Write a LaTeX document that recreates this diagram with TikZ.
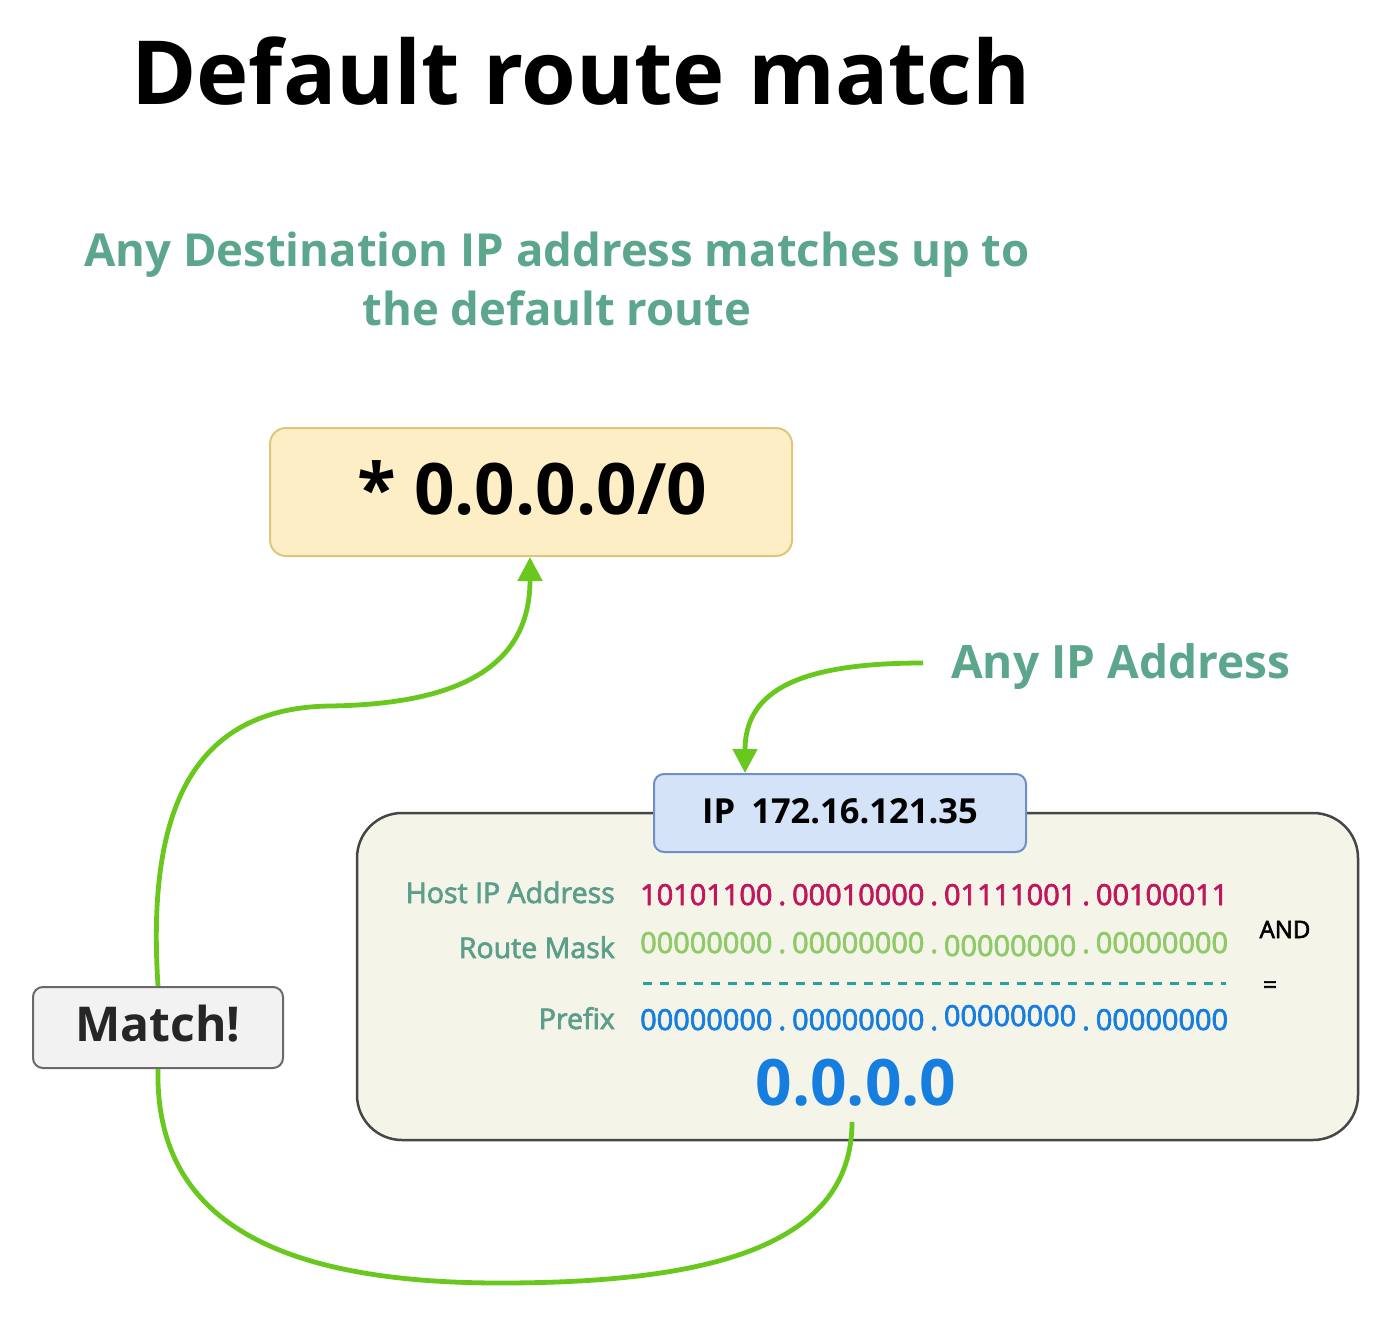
\documentclass[tikz,border=0pt]{standalone}
\usepackage{fontspec}
\setmainfont{Open Sans}
\newfontfamily\semib[FakeBold=2.5]{Open Sans}
\usetikzlibrary{arrows.meta}
\definecolor{teal1}{RGB}{92,166,140}
\definecolor{teal2}{RGB}{92,158,140}
\definecolor{garrow}{RGB}{104,200,30}
\definecolor{routefill}{RGB}{253,238,198}
\definecolor{routedraw}{RGB}{222,198,122}
\definecolor{ipfill}{RGB}{212,227,248}
\definecolor{ipdraw}{RGB}{112,142,200}
\definecolor{bigfill}{RGB}{245,244,232}
\definecolor{bigdraw}{RGB}{70,70,70}
\definecolor{matchfill}{RGB}{242,242,242}
\definecolor{matchdraw}{RGB}{105,105,105}
\definecolor{crim}{RGB}{192,22,92}
\definecolor{maskg}{RGB}{142,202,104}
\definecolor{pblue}{RGB}{22,126,222}
\definecolor{dashc}{RGB}{40,160,160}
\newcommand{\fsz}[1]{\fontsize{#1}{#1}\selectfont}
\newcommand{\bitrow}[4]{#1\hspace{6pt}.\hspace{6pt}#2\hspace{6pt}.\hspace{6pt}#3\hspace{6pt}.\hspace{6pt}#4}
\tikzset{
  greenarrow/.style={draw=garrow, line width=4.8pt, -{Triangle[length=24pt,width=24pt]}},
  greenline/.style={draw=garrow, line width=4.8pt},
  rowlabel/.style={anchor=base east, inner sep=0pt, text=teal2, font=\semib\fsz{28.5}},
  bits/.style={anchor=base west, inner sep=0pt, font=\semib\fsz{28.9}},
}
\begin{document}
\begin{tikzpicture}[x=1pt,y=-1pt]
\useasboundingbox (0,0) rectangle (1400,1329);
\fill[white] (0,0) rectangle (1400,1329);

\node[anchor=base west, inner sep=0pt, font=\bfseries\fsz{88.5}] (title) at (131,105) {Default route match};

\node[anchor=base, inner sep=0pt, text=teal1, font=\bfseries\fsz{45.5}] (sub1) at (557,267) {Any Destination IP address matches up to};
\node[anchor=base, inner sep=0pt, text=teal1, font=\bfseries\fsz{45.5}] (sub2) at (557,326) {the default route};

% route box
\node[draw=routedraw, fill=routefill, line width=2pt, rounded corners=16pt,
      minimum width=522pt, minimum height=128pt] (route) at (531,492) {};
\node[anchor=base, inner sep=0pt, font=\bfseries\fsz{71}] (routetxt) at (532,514) {* 0.0.0.0/0};

% big box
\node[draw=bigdraw, fill=bigfill, line width=2.5pt, rounded corners=45pt,
      minimum width=1001pt, minimum height=327pt] (big) at (857.5,976.5) {};

% IP box
\node[draw=ipdraw, fill=ipfill, line width=2pt, rounded corners=10pt,
      minimum width=372pt, minimum height=78pt] (ip) at (840,813) {};
\node[anchor=base, inner sep=0pt, font=\bfseries\fsz{34.5}] (iptxt) at (840,823) {IP\hspace{16pt}172.16.121.35};

% labels
\node[anchor=base west, inner sep=0pt, text=teal1, font=\bfseries\fsz{46}] (anyip) at (951,678) {Any IP Address};

\node[rowlabel] (lhost) at (615,903) {Host IP Address};
\node[rowlabel] (lmask) at (615,958) {Route Mask};
\node[rowlabel] (lpref) at (615,1029) {Prefix};

\node[bits, text=crim] (host) at (640,905) {\bitrow{10101100}{00010000}{01111001}{00100011}};
\node[bits, text=maskg] (mask) at (640,953) {\bitrow{00000000}{00000000}{\raisebox{-3pt}{00000000}}{00000000}};
\node[bits, text=pblue] (pref) at (640,1030) {\bitrow{00000000}{00000000}{\raisebox{4pt}{00000000}}{00000000}};

\coordinate (dl) at (643,983);
\coordinate (dr) at (1226,983);
\draw[dashc, line width=3pt, dash pattern=on 9pt off 8pt] (dl) -- (dr);

\node[anchor=base, inner sep=0pt, font=\semib\fsz{24}] (and) at (1285,938) {AND};
\node[anchor=base, inner sep=0pt, font=\semib\fsz{24}] (eq) at (1270,993) {=};

\node[anchor=base, inner sep=0pt, text=pblue, font=\bfseries\fsz{64}] (result) at (856,1105) {0.0.0.0};

% match box
\node[draw=matchdraw, fill=matchfill, line width=2pt, rounded corners=10pt,
      minimum width=250pt, minimum height=81pt] (match) at (158,1027.5) {};
\node[anchor=base, inner sep=0pt, text=black!85, font=\bfseries\fsz{48}] (matchtxt) at (158,1041) {Match!};

% connectors
\coordinate (anystart) at (923,663);
\draw[greenarrow] (anystart) .. controls (800,663) and (745,690) .. (ip.north -| 745,0);

\coordinate (resbot) at (852,1122);
\draw[greenline] (resbot) .. controls (852,1250) and (700,1283) .. (500,1283)
   .. controls (260,1283) and (155,1210) .. (match.south);
\draw[greenarrow] (match.north) .. controls (148,830) and (180,708) .. (330,706)
   .. controls (470,704) and (530,660) .. (route.south -| 530,0);
\end{tikzpicture}
\end{document}
